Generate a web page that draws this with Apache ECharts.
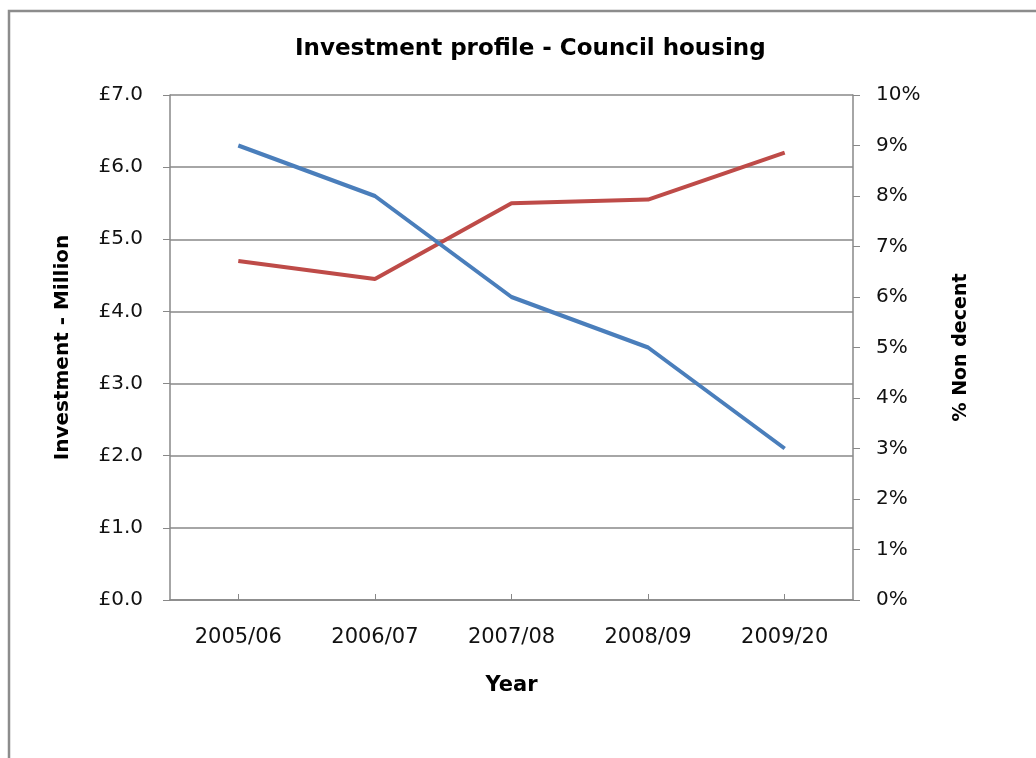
<!DOCTYPE html>
<html>
<head>
<meta charset="utf-8">
<title>Investment profile - Council housing</title>
<script src="https://cdn.jsdelivr.net/npm/echarts@6/dist/echarts.min.js"></script>
<style>
  html, body { margin: 0; padding: 0; background: #ffffff; }
  #chart { width: 1036px; height: 758px; }
</style>
</head>
<body>
<div id="chart"></div>
<script>
// Financial years on the category axis
const years = ['2005/06', '2006/07', '2007/08', '2008/09', '2009/20'];
// Capital investment, £ million (left axis)
const investment = [4.7, 4.45, 5.5, 5.55, 6.2];
// Share of council homes that are non-decent, % (right axis)
const nonDecent = [9, 8, 6, 5, 3];

const FONT = 'DejaVu Sans';
const AXIS_GREY = '#888888';

const chart = echarts.init(document.getElementById('chart'), null, { renderer: 'canvas' });

chart.setOption({
  animation: false,
  backgroundColor: '#ffffff',
  graphic: [{
    type: 'rect',
    shape: { x: 9, y: 11, width: 1100, height: 800 },
    style: { fill: 'none', stroke: '#8c8c8c', lineWidth: 2.5 },
    silent: true
  }],
  title: {
    text: 'Investment profile - Council housing',
    left: 290,
    top: 33,
    textStyle: { fontFamily: FONT, fontSize: 23, fontWeight: 'bold', color: '#000000' }
  },
  grid: { left: 170, right: 183, top: 95, bottom: 158, containLabel: false },
  xAxis: {
    type: 'category',
    data: years,
    boundaryGap: true,
    name: 'Year',
    nameLocation: 'middle',
    nameGap: 75,
    nameTextStyle: { fontFamily: FONT, fontSize: 21, fontWeight: 'bold', color: '#000000' },
    axisLine: { lineStyle: { color: AXIS_GREY, width: 1.5 } },
    axisTick: { show: true, alignWithLabel: true, inside: true, length: 6, lineStyle: { color: AXIS_GREY } },
    axisLabel: { fontFamily: FONT, fontSize: 21, color: '#111111', margin: 27 },
    splitLine: { show: false }
  },
  yAxis: [{
    type: 'value',
    min: 0,
    max: 7,
    interval: 1,
    position: 'left',
    name: 'Investment - Million',
    nameLocation: 'middle',
    nameRotate: 90,
    nameGap: 97,
    nameTextStyle: { fontFamily: FONT, fontSize: 20, fontWeight: 'bold', color: '#000000' },
    axisLine: { show: true, lineStyle: { color: AXIS_GREY, width: 1.5 } },
    axisTick: { show: true, length: 7, lineStyle: { color: AXIS_GREY } },
    axisLabel: {
      fontFamily: FONT, fontSize: 20, color: '#111111', margin: 27,
      formatter: v => '£' + v.toFixed(1)
    },
    splitLine: { show: true, lineStyle: { color: AXIS_GREY, width: 1.5 } }
  }, {
    type: 'value',
    min: 0,
    max: 10,
    interval: 1,
    position: 'right',
    name: '% Non decent',
    nameLocation: 'middle',
    nameRotate: 90,
    nameGap: 99,
    nameTextStyle: { fontFamily: FONT, fontSize: 19, fontWeight: 'bold', color: '#000000' },
    axisLine: { show: true, lineStyle: { color: AXIS_GREY, width: 1.5 } },
    axisTick: { show: true, length: 7, lineStyle: { color: AXIS_GREY } },
    axisLabel: {
      fontFamily: FONT, fontSize: 20, color: '#111111', margin: 23,
      formatter: v => v + '%'
    },
    splitLine: { show: false }
  }],
  series: [{
    name: 'Investment',
    type: 'line',
    yAxisIndex: 0,
    data: investment,
    symbol: 'none',
    lineStyle: { color: '#be4b48', width: 4 },
    itemStyle: { color: '#be4b48' },
    z: 3
  }, {
    name: '% Non decent',
    type: 'line',
    yAxisIndex: 1,
    data: nonDecent,
    symbol: 'none',
    lineStyle: { color: '#4a7ebb', width: 4 },
    itemStyle: { color: '#4a7ebb' },
    z: 4
  }]
});
</script>
</body>
</html>
